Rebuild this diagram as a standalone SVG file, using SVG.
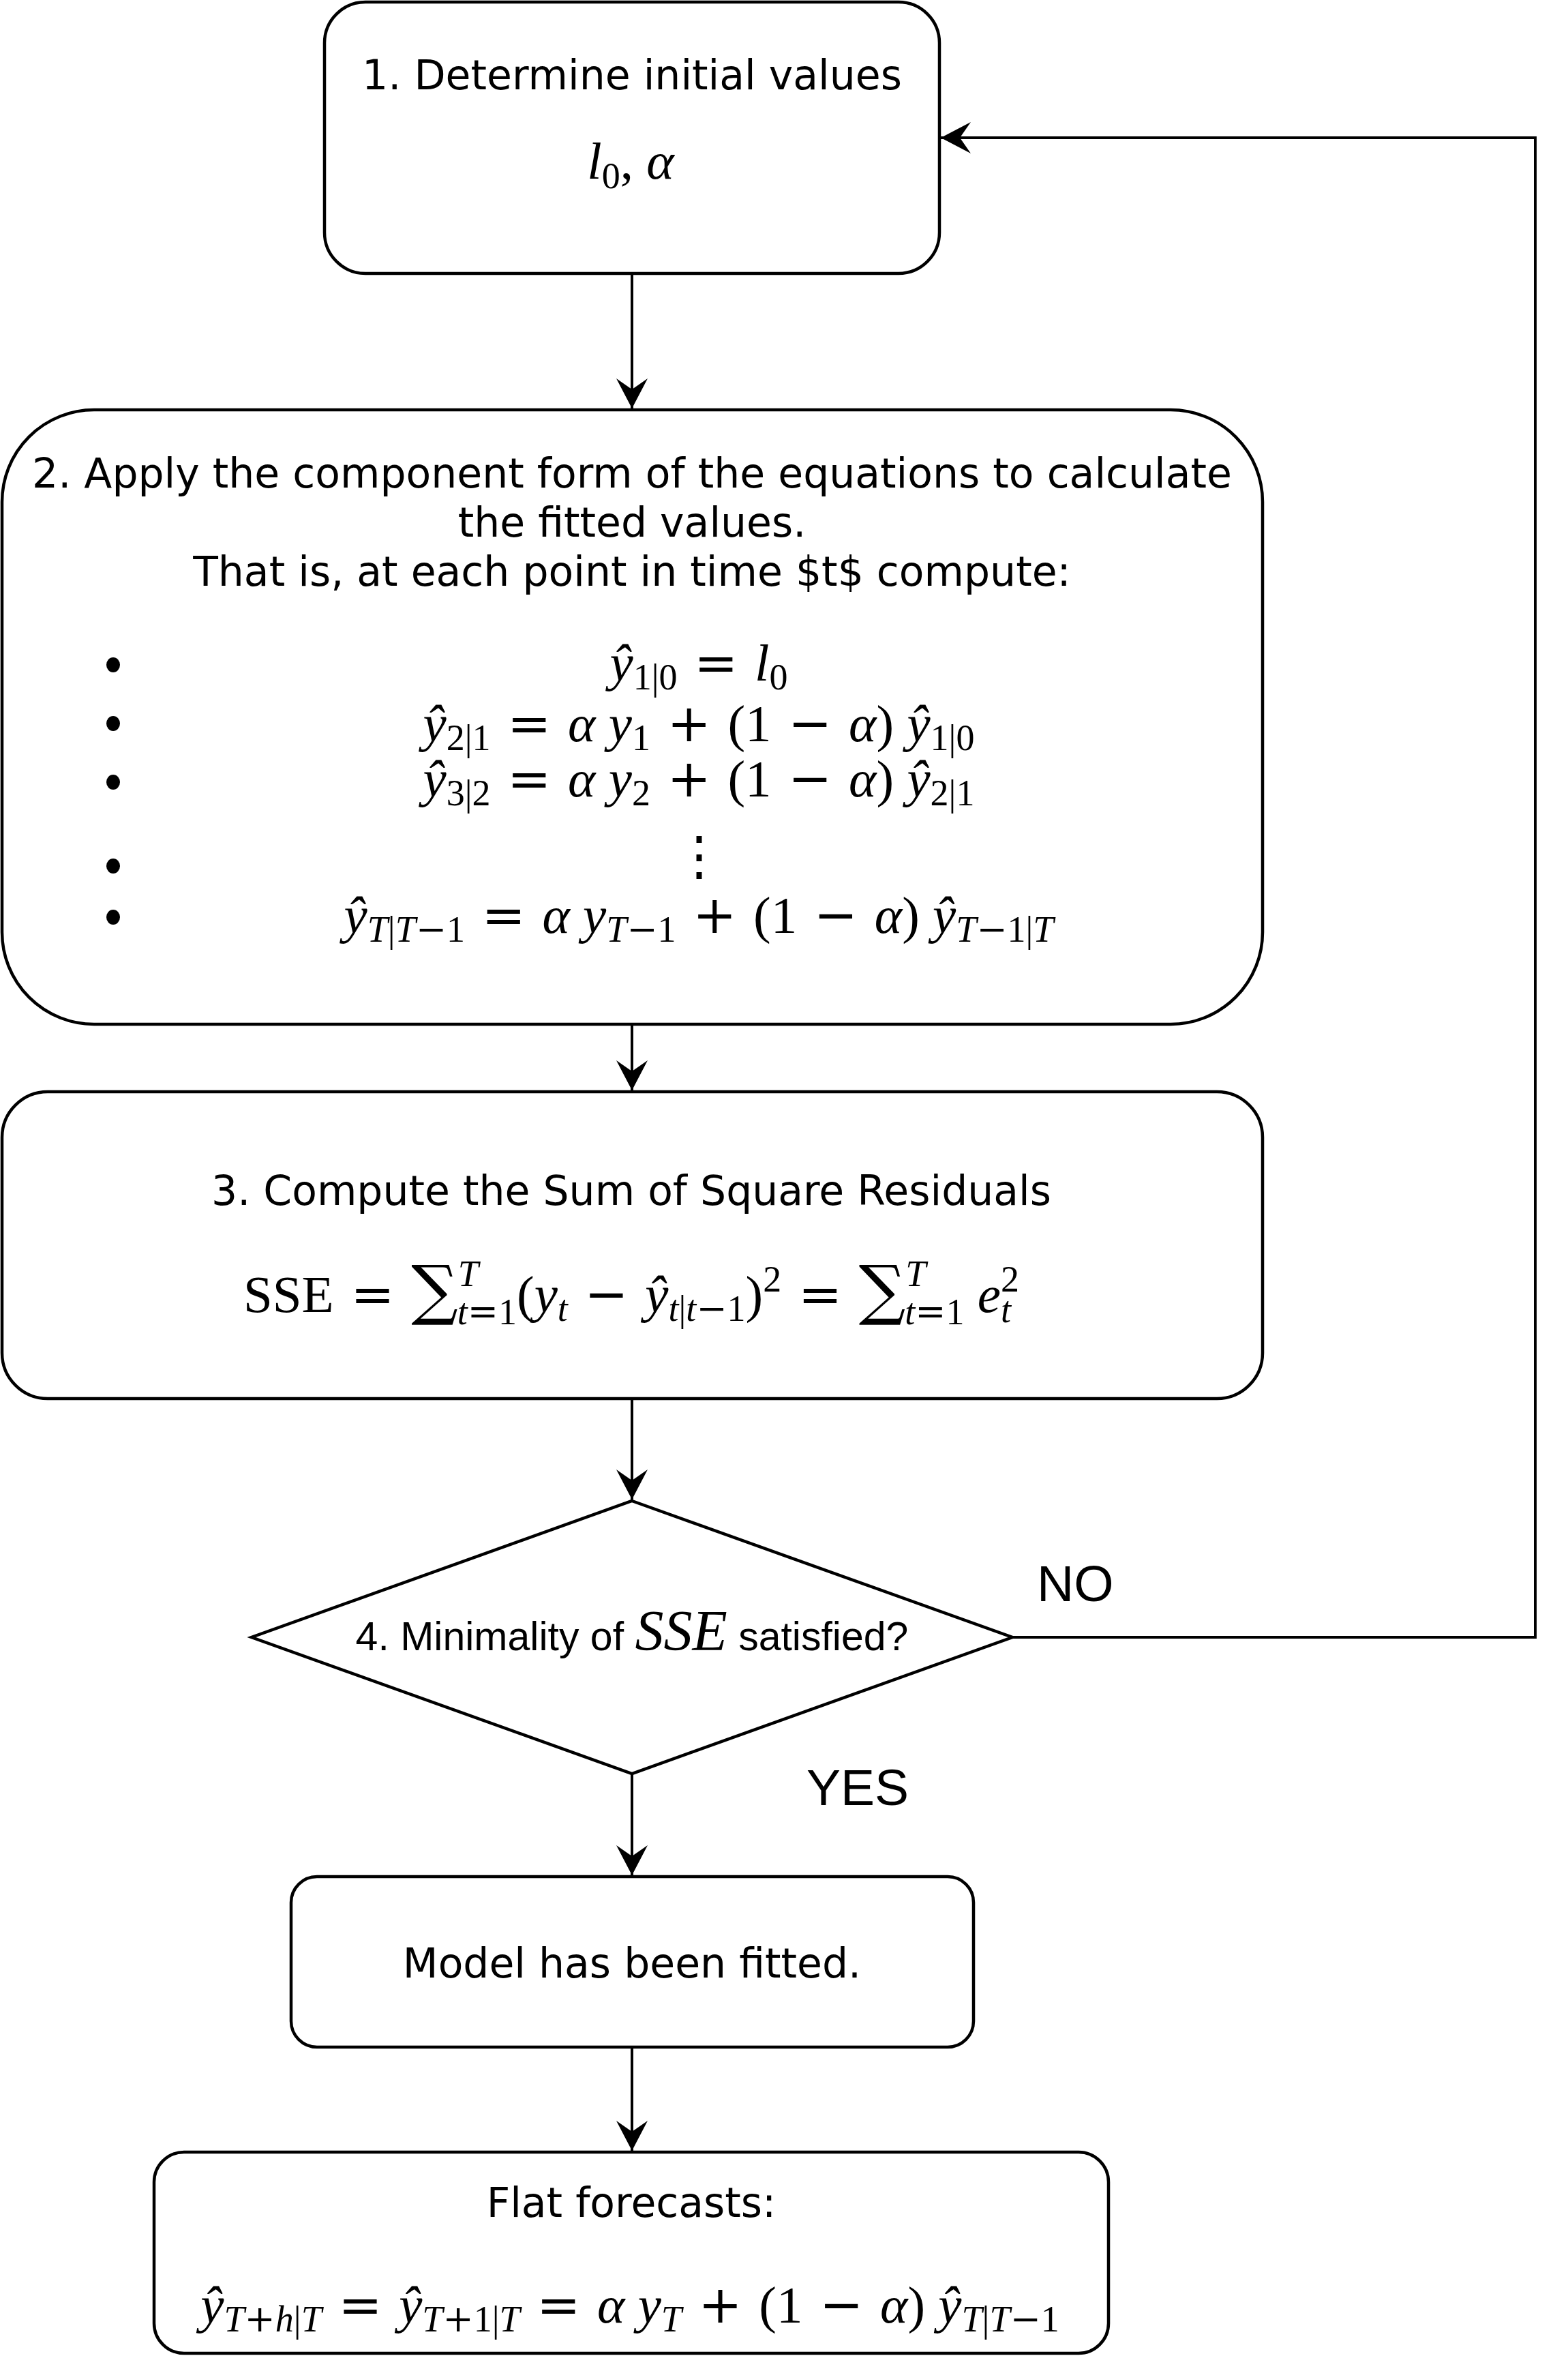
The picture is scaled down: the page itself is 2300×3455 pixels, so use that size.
<svg xmlns="http://www.w3.org/2000/svg" width="2300" height="3455" viewBox="0 0 2300 3455">
<defs>
<style>
.box{fill:#fff;stroke:#000;stroke-width:4.5}
.edge{fill:none;stroke:#000;stroke-width:4}
.t{font-family:"DejaVu Sans",Verdana,sans-serif;font-size:60px;fill:#000;text-anchor:middle}
.a{font-family:"Liberation Sans",Arial,Helvetica,sans-serif;fill:#000}
.m{font-family:"Liberation Serif","DejaVu Serif",serif;font-size:77px;fill:#000;text-anchor:middle}
.i{font-style:italic}
.s{font-size:54px}
.o{font-family:"DejaVu Serif","Liberation Serif",serif}
.dot{fill:#000}
</style>
<marker id="arrow" markerUnits="userSpaceOnUse" markerWidth="46" markerHeight="48" viewBox="0 0 46 48" refX="44" refY="24" orient="auto"><path d="M44,24 L0,1 L16,24 L0,47 Z" fill="#000"/></marker>
</defs>
<rect width="2300" height="3455" fill="#fff"/>

<g id="connectors">
<path class="edge" d="M927,403 V599" marker-end="url(#arrow)"/>
<path class="edge" d="M927,1504 V1599" marker-end="url(#arrow)"/>
<path class="edge" d="M927,2053 V2199" marker-end="url(#arrow)"/>
<path class="edge" d="M927,2601 V2750" marker-end="url(#arrow)"/>
<path class="edge" d="M927,3004 V3154" marker-end="url(#arrow)"/>
<path class="edge" d="M1485,2401 H2252 V202 H1380" marker-end="url(#arrow)"/>
<text class="a" x="1521" y="2348" font-size="75">NO</text>
<text class="a" x="1258" y="2647" font-size="75" text-anchor="middle">YES</text>
</g>

<g id="node1">
<rect class="box" x="476" y="3" width="902" height="398" rx="60" ry="60"/>
<text class="t" x="927" y="131">1. Determine initial values</text>
<text class="m" x="925" y="262" font-size="86"><tspan class="i">l</tspan><tspan class="s" font-size="60" dy="14">0</tspan><tspan dy="-14">, </tspan><tspan class="i">α</tspan></text>
</g>

<g id="node2">
<rect class="box" x="3" y="601" width="1849" height="901" rx="135" ry="135"/>
<text class="t" x="927" y="715">2. Apply the component form of the equations to calculate</text>
<text class="t" x="927" y="787">the fitted values.</text>
<text class="t" x="927" y="859">That is, at each point in time $t$ compute:</text>
<ellipse class="dot" cx="166" cy="975" rx="10" ry="11"/>
<ellipse class="dot" cx="166" cy="1061" rx="10" ry="11"/>
<ellipse class="dot" cx="166" cy="1147" rx="10" ry="11"/>
<ellipse class="dot" cx="166" cy="1270" rx="10" ry="11"/>
<ellipse class="dot" cx="166" cy="1345" rx="10" ry="11"/>
<text class="m" x="1025" y="998"><tspan class="i">ŷ</tspan><tspan class="s" dy="13">1|0</tspan><tspan class="o" dy="-13"> = </tspan><tspan class="i">l</tspan><tspan class="s" dy="13">0</tspan></text>
<text class="m" x="1025" y="1087"><tspan class="i">ŷ</tspan><tspan class="s" dy="13">2|1</tspan><tspan class="o" dy="-13"> = </tspan><tspan class="i">α y</tspan><tspan class="s" dy="13">1</tspan><tspan class="o" dy="-13"> + </tspan><tspan>(1</tspan><tspan class="o"> − </tspan><tspan class="i">α</tspan><tspan>) </tspan><tspan class="i">ŷ</tspan><tspan class="s" dy="13">1|0</tspan></text>
<text class="m" x="1025" y="1168"><tspan class="i">ŷ</tspan><tspan class="s" dy="13">3|2</tspan><tspan class="o" dy="-13"> = </tspan><tspan class="i">α y</tspan><tspan class="s" dy="13">2</tspan><tspan class="o" dy="-13"> + </tspan><tspan>(1</tspan><tspan class="o"> − </tspan><tspan class="i">α</tspan><tspan>) </tspan><tspan class="i">ŷ</tspan><tspan class="s" dy="13">2|1</tspan></text>
<text class="m" x="1025" y="1282" font-family="DejaVu Serif" font-size="78">⋮</text>
<text class="m" x="1025" y="1368"><tspan class="i">ŷ</tspan><tspan class="s" dy="13"><tspan class="i">T</tspan>|<tspan class="i">T</tspan><tspan class="o">−</tspan>1</tspan><tspan class="o" dy="-13"> = </tspan><tspan class="i">α y</tspan><tspan class="s" dy="13"><tspan class="i">T</tspan><tspan class="o">−</tspan>1</tspan><tspan class="o" dy="-13"> + </tspan><tspan>(1</tspan><tspan class="o"> − </tspan><tspan class="i">α</tspan><tspan>) </tspan><tspan class="i">ŷ</tspan><tspan class="s" dy="13"><tspan class="i">T</tspan><tspan class="o">−</tspan>1|<tspan class="i">T</tspan></tspan></text>
</g>

<g id="node3">
<rect class="box" x="3" y="1601" width="1849" height="450" rx="67" ry="67"/>
<text class="t" x="926" y="1767">3. Compute the Sum of Square Residuals</text>
<text class="m" x="926" y="1924"><tspan>SSE</tspan><tspan class="o"> = </tspan><tspan class="o" font-size="96">∑</tspan><tspan class="s i" dy="-38">T</tspan><tspan class="s" dx="-31" dy="56"><tspan class="i">t</tspan><tspan class="o">=</tspan>1</tspan><tspan dy="-18">(</tspan><tspan class="i">y</tspan><tspan class="s i" dy="13">t</tspan><tspan class="o" dy="-13"> − </tspan><tspan class="i">ŷ</tspan><tspan class="s" dy="13"><tspan class="i">t</tspan>|<tspan class="i">t</tspan><tspan class="o">−</tspan>1</tspan><tspan dy="-13">)</tspan><tspan class="s" dy="-30">2</tspan><tspan class="o" dy="30"> = </tspan><tspan class="o" font-size="96">∑</tspan><tspan class="s i" dy="-38">T</tspan><tspan class="s" dx="-31" dy="56"><tspan class="i">t</tspan><tspan class="o">=</tspan>1</tspan><tspan dy="-18"> </tspan><tspan class="i">e</tspan><tspan class="s" dy="-30">2</tspan><tspan class="s i" dx="-27" dy="45">t</tspan></text>
</g>

<g id="node4">
<polygon class="box" points="927,2201 1485,2401 927,2601 369,2401"/>
<text class="a" x="927" y="2420" font-size="59" text-anchor="middle">4. Minimality of <tspan font-family="Liberation Serif, serif" font-style="italic" font-size="84">SSE</tspan> satisfied?</text>
</g>

<g id="node5">
<rect class="box" x="427" y="2752" width="1001" height="250" rx="38" ry="38"/>
<text class="t" x="927" y="2900">Model has been fitted.</text>
</g>

<g id="node6">
<rect class="box" x="226" y="3156" width="1400" height="295" rx="44" ry="44"/>
<text class="t" x="926" y="3251">Flat forecasts:</text>
<text class="m" x="924" y="3406"><tspan class="i">ŷ</tspan><tspan class="s" dy="13"><tspan class="i">T</tspan><tspan class="o">+</tspan><tspan class="i">h</tspan>|<tspan class="i">T</tspan></tspan><tspan class="o" dy="-13"> = </tspan><tspan class="i">ŷ</tspan><tspan class="s" dy="13"><tspan class="i">T</tspan><tspan class="o">+</tspan>1|<tspan class="i">T</tspan></tspan><tspan class="o" dy="-13"> = </tspan><tspan class="i">α y</tspan><tspan class="s i" dy="13">T</tspan><tspan class="o" dy="-13"> + </tspan><tspan>(1</tspan><tspan class="o"> − </tspan><tspan class="i">α</tspan><tspan>) </tspan><tspan class="i">ŷ</tspan><tspan class="s" dy="13"><tspan class="i">T</tspan>|<tspan class="i">T</tspan><tspan class="o">−</tspan>1</tspan></text>
</g>
</svg>
